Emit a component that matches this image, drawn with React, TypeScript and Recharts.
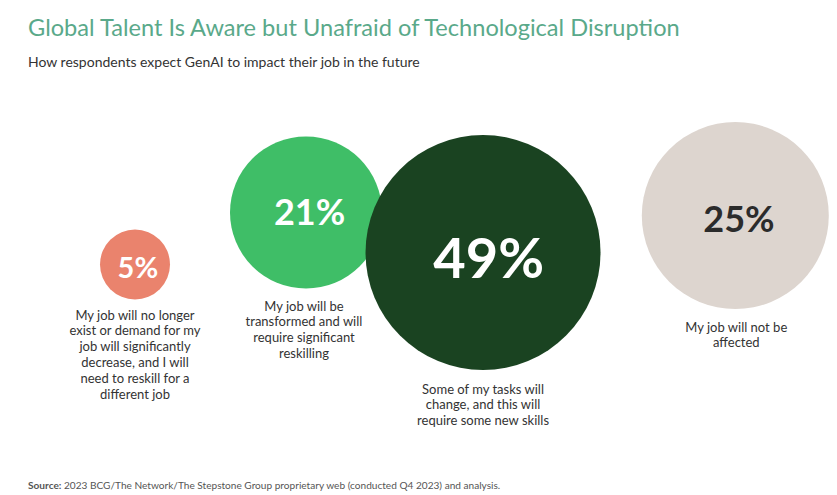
import React from 'react';
import { ScatterChart, Scatter, XAxis, YAxis, ZAxis } from 'recharts';

const W = 837;
const H = 495;
const FONT = 'Lato, "Liberation Sans", sans-serif';

// ---- data ----
const categories: string[][] = [
  ['My job will no longer', 'exist or demand for my', 'job will significantly', 'decrease, and I will', 'need to reskill for a', 'different job'],
  ['My job will be', 'transformed and will', 'require significant', 'reskilling'],
  ['Some of my tasks will', 'change, and this will', 'require some new skills'],
  ['My job will not be', 'affected'],
];
const values = [5, 21, 49, 25];
const valueLabels = ['5%', '21%', '49%', '25%'];

// ---- styles ----
const fillColors = ['#EA836D', '#3FBE67', '#1A4321', '#DDD5CF'];
const valueTextColors = ['#ffffff', '#ffffff', '#ffffff', '#2b2b2b'];

// ---- layout (abstract 0-100 units for the hidden axes) ----
const layoutX = [16.13, 36.56, 57.71, 87.85];
const layoutY = [53.43, 42.93, 51.01, 43.54];
const layoutRadius = [35, 76, 117.5, 93.5];
const valueFontSize = [29, 36, 56, 36];
const valueBaseline = [14, 12.5, 25.5, 16];
const descDx = [0, -2, 0, 1];
const descGap = [15.5, 17.5, 19, 18];
const LINE_H = 15.8;

const MAX_AREA = Math.PI * 130 * 130;

const table = values.map((v, i) => ({
  index: i,
  value: v,
  label: valueLabels[i],
  lines: categories[i],
  x: layoutX[i],
  y: layoutY[i],
  area: Math.PI * layoutRadius[i] * layoutRadius[i],
}));

const Bubble = (props: any) => {
  const { cx, cy, width, payload } = props;
  const r = width / 2;
  const i = payload.index;
  const fs = valueFontSize[i];
  const firstLineCenter = cy + r + descGap[i];
  return (
    <g>
      <circle cx={cx} cy={cy} r={r} fill={fillColors[i]} />
      <text
        x={cx + fs * 0.1}
        y={cy + valueBaseline[i]}
        textAnchor="middle"
        fontSize={fs}
        fontWeight={700}
        fontFamily={FONT}
        fill={valueTextColors[i]}
      >
        {payload.label}
      </text>
      <text textAnchor="middle" fontSize={13} fontFamily={FONT} fill="#333333">
        {payload.lines.map((ln: string, k: number) => (
          <tspan key={k} x={cx + descDx[i]} y={firstLineCenter + 4.6 + k * LINE_H}>
            {ln}
          </tspan>
        ))}
      </text>
    </g>
  );
};

export default function App() {
  return (
    <div style={{ position: 'absolute', left: 0, top: 0, width: W, height: H, background: '#ffffff' }}>
      <ScatterChart width={W} height={H} margin={{ top: 0, right: 0, bottom: 0, left: 0 }}>
        <XAxis type="number" dataKey="x" domain={[0, 100]} hide />
        <YAxis type="number" dataKey="y" domain={[0, 100]} reversed hide />
        <ZAxis type="number" dataKey="area" domain={[0, MAX_AREA]} range={[0, MAX_AREA]} />
        <Scatter data={table} shape={Bubble} isAnimationActive={false} />
      </ScatterChart>
      <svg
        width={W}
        height={H}
        style={{ position: 'absolute', left: 0, top: 0, pointerEvents: 'none' }}
      >
        <text x={28} y={36} fontSize={23.6} fontFamily={FONT} fill="#5AA98A">
          Global Talent Is Aware but Unafraid of Technological Disruption
        </text>
        <text x={28} y={67} fontSize={14} fontFamily={FONT} fill="#333333">
          How respondents expect GenAI to impact their job in the future
        </text>
        <text x={28} y={489} fontSize={10.1} fontFamily={FONT} fill="#555555">
          <tspan fontWeight={700}>Source:</tspan>
          <tspan> 2023 BCG/The Network/The Stepstone Group proprietary web (conducted Q4 2023) and analysis.</tspan>
        </text>
      </svg>
    </div>
  );
}
